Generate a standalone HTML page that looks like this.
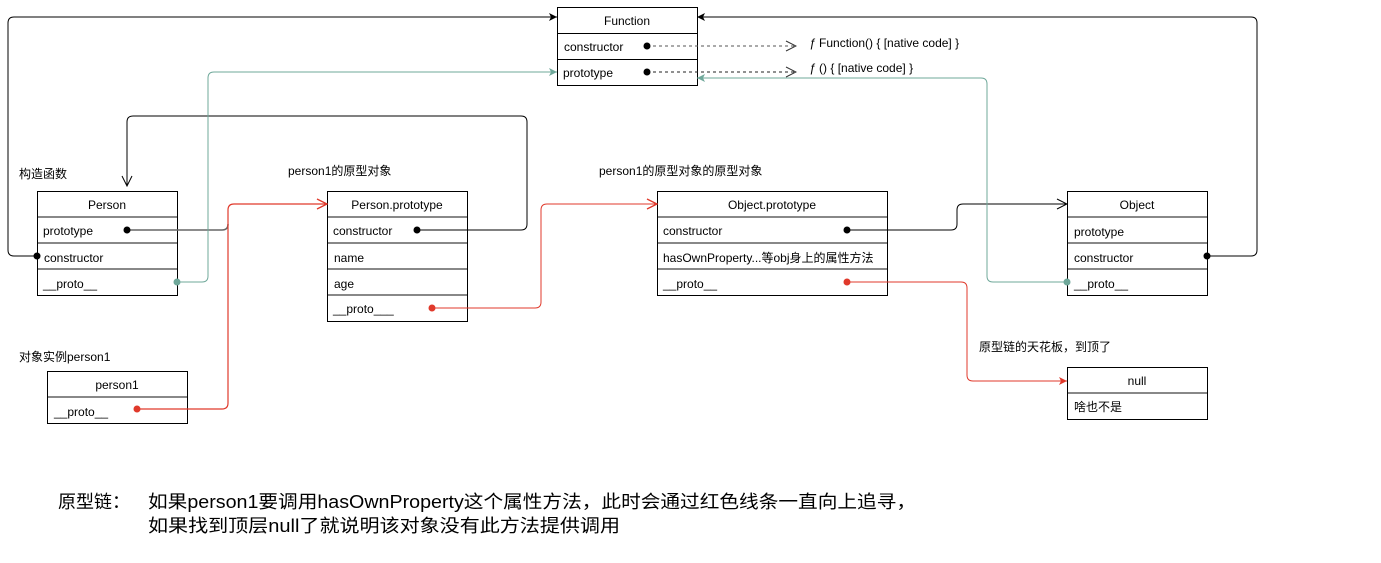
<!DOCTYPE html>
<html><head><meta charset="utf-8"><style>
body{margin:0;background:#fff}
svg{display:block}
text{font-family:"Liberation Sans","Noto Sans CJK SC",sans-serif;font-size:12px;fill:#000}
.b{fill:#fff;stroke:#000;stroke-width:1}
.s{stroke:#888;stroke-width:2}
</style></head><body>
<svg width="1381" height="563" viewBox="0 0 1381 563" xmlns="http://www.w3.org/2000/svg">
<defs>
<marker id="ab" markerWidth="10" markerHeight="10" refX="9" refY="5" orient="auto" markerUnits="userSpaceOnUse"><path d="M1,1 L9,5 L1,9 L3,5 Z" fill="#000"/></marker>
<marker id="ao" markerWidth="12" markerHeight="12" refX="11" refY="6" orient="auto" markerUnits="userSpaceOnUse"><path d="M1,1 L11,6 L1,11" fill="none" stroke="#000"/></marker>
<marker id="ar" markerWidth="12" markerHeight="12" refX="11" refY="6" orient="auto" markerUnits="userSpaceOnUse"><path d="M1,1 L11,6 L1,11" fill="none" stroke="#e0392b" stroke-width="1.3"/></marker>
<marker id="arf" markerWidth="10" markerHeight="10" refX="9" refY="5" orient="auto" markerUnits="userSpaceOnUse"><path d="M1,1 L9,5 L1,9 L3,5 Z" fill="#e0392b"/></marker>
<marker id="at" markerWidth="10" markerHeight="10" refX="9" refY="5" orient="auto" markerUnits="userSpaceOnUse"><path d="M1,1 L9,5 L1,9 L3,5 Z" fill="#6fa89a"/></marker>
<marker id="ad" markerWidth="12" markerHeight="12" refX="11" refY="6" orient="auto" markerUnits="userSpaceOnUse"><path d="M1,1 L11,6 L1,11" fill="none" stroke="#333"/></marker>
</defs>

<!-- Function -->
<rect class="b" x="557.5" y="7.5" width="140" height="78"/>
<line x1="557" y1="33.5" x2="697" y2="33.5" stroke="#000"/>
<line x1="557" y1="59.5" x2="697" y2="59.5" stroke="#000"/>
<text x="627" y="25" text-anchor="middle">Function</text>
<text x="564" y="51">constructor</text>
<text x="563" y="77">prototype</text>

<!-- Person -->
<rect class="b" x="37.5" y="191.5" width="140" height="104"/>
<line class="s" x1="38" y1="217" x2="177" y2="217"/><line class="s" x1="38" y1="243" x2="177" y2="243"/><line class="s" x1="38" y1="269" x2="177" y2="269"/>
<text x="107" y="209" text-anchor="middle">Person</text>
<text x="43" y="235">prototype</text>
<text x="44" y="262">constructor</text>
<text x="43" y="288">__proto__</text>

<!-- Person.prototype -->
<rect class="b" x="327.5" y="191.5" width="140" height="130"/>
<line class="s" x1="328" y1="217" x2="467" y2="217"/><line class="s" x1="328" y1="243" x2="467" y2="243"/><line class="s" x1="328" y1="269" x2="467" y2="269"/><line class="s" x1="328" y1="295" x2="467" y2="295"/>
<text x="397" y="209" text-anchor="middle">Person.prototype</text>
<text x="333" y="235">constructor</text>
<text x="334" y="262">name</text>
<text x="334" y="288">age</text>
<text x="333" y="313">__proto___</text>

<!-- Object.prototype -->
<rect class="b" x="657.5" y="191.5" width="230" height="104"/>
<line class="s" x1="658" y1="217" x2="887" y2="217"/><line class="s" x1="658" y1="243" x2="887" y2="243"/><line class="s" x1="658" y1="269" x2="887" y2="269"/>
<text x="772" y="209" text-anchor="middle">Object.prototype</text>
<text x="663" y="235">constructor</text>
<text x="663" y="262">hasOwnProperty...等obj身上的属性方法</text>
<text x="663" y="288">__proto__</text>

<!-- Object -->
<rect class="b" x="1067.5" y="191.5" width="140" height="104"/>
<line class="s" x1="1068" y1="217" x2="1207" y2="217"/><line class="s" x1="1068" y1="243" x2="1207" y2="243"/><line class="s" x1="1068" y1="269" x2="1207" y2="269"/>
<text x="1137" y="209" text-anchor="middle">Object</text>
<text x="1074" y="236">prototype</text>
<text x="1074" y="262">constructor</text>
<text x="1074" y="288">__proto__</text>

<!-- person1 -->
<rect class="b" x="47.5" y="371.5" width="140" height="52"/>
<line class="s" x1="48" y1="397" x2="187" y2="397"/>
<text x="117" y="389" text-anchor="middle">person1</text>
<text x="54" y="416">__proto__</text>

<!-- null -->
<rect class="b" x="1067.5" y="367.5" width="140" height="52"/>
<line class="s" x1="1068" y1="393" x2="1207" y2="393"/>
<text x="1137" y="385" text-anchor="middle">null</text>
<text x="1074" y="411">啥也不是</text>

<!-- connectors -->
<path d="M37,256 H14 Q8,256 8,250 V23 Q8,17 14,17 H557" fill="none" stroke="#000" marker-end="url(#ab)"/>
<path d="M1207,256 H1251 Q1257,256 1257,250 V23 Q1257,17 1251,17 H697" fill="none" stroke="#000" marker-end="url(#ab)"/>
<path d="M417,230 H521 Q527,230 527,224 V122 Q527,116 521,116 H133 Q127,116 127,122 V186" fill="none" stroke="#000" marker-end="url(#ao)"/>
<path d="M127,230 H222 Q228,230 228,224" fill="none" stroke="#666" stroke-width="1.5"/>
<path d="M137,409 H222 Q228,409 228,403 V210 Q228,204 234,204 H327" fill="none" stroke="#e0392b" stroke-width="1.2" marker-end="url(#ar)"/>
<path d="M177,282 H202 Q208,282 208,276 V78 Q208,72 214,72 H557" fill="none" stroke="#6fa89a" marker-end="url(#at)"/>
<path d="M432,308 H535 Q541,308 541,302 V210 Q541,204 547,204 H657" fill="none" stroke="#e0392b" marker-end="url(#ar)"/>
<path d="M847,230 H951 Q957,230 957,224 V210 Q957,204 963,204 H1067" fill="none" stroke="#000" marker-end="url(#ao)"/>
<path d="M1067,282 H993 Q987,282 987,276 V84 Q987,78 981,78 H697" fill="none" stroke="#6fa89a" marker-end="url(#at)"/>
<path d="M847,282 H961 Q967,282 967,288 V375 Q967,381 973,381 H1067" fill="none" stroke="#e0392b" marker-end="url(#arf)"/>
<path d="M647,46 H796" fill="none" stroke="#555" stroke-dasharray="3,3" marker-end="url(#ad)"/>
<path d="M647,72 H796" fill="none" stroke="#222" stroke-dasharray="3,3" marker-end="url(#ad)"/>

<!-- dots -->
<circle cx="127" cy="230" r="3.5" fill="#000"/>
<circle cx="37" cy="256" r="3.5" fill="#000"/>
<circle cx="177" cy="282" r="3.5" fill="#6fa89a"/>
<circle cx="417" cy="230" r="3.5" fill="#000"/>
<circle cx="432" cy="308" r="3.5" fill="#e0392b"/>
<circle cx="137" cy="409" r="3.5" fill="#e0392b"/>
<circle cx="847" cy="230" r="3.5" fill="#000"/>
<circle cx="847" cy="282" r="3.5" fill="#e0392b"/>
<circle cx="1207" cy="256" r="3.5" fill="#000"/>
<circle cx="1067" cy="282" r="3.5" fill="#6fa89a"/>
<circle cx="647" cy="46" r="3.5" fill="#000"/>
<circle cx="647" cy="72" r="3.5" fill="#000"/>

<!-- labels -->
<text x="809" y="47"><tspan font-style="italic">ƒ</tspan> Function() { [native code] }</text>
<text x="809" y="72"><tspan font-style="italic">ƒ</tspan> () { [native code] }</text>
<text x="19" y="178">构造函数</text>
<text x="288" y="175">person1的原型对象</text>
<text x="599" y="175">person1的原型对象的原型对象</text>
<text x="19" y="361">对象实例person1</text>
<text x="979" y="351">原型链的天花板，到顶了</text>

<text x="58" y="508" style="font-size:18px">原型链：</text>
<text x="148" y="508" style="font-size:18px" textLength="768" lengthAdjust="spacingAndGlyphs">如果person1要调用hasOwnProperty这个属性方法，此时会通过红色线条一直向上追寻，</text>
<text x="148" y="532" style="font-size:18px" textLength="472" lengthAdjust="spacingAndGlyphs">如果找到顶层null了就说明该对象没有此方法提供调用</text>
</svg>
</body></html>
